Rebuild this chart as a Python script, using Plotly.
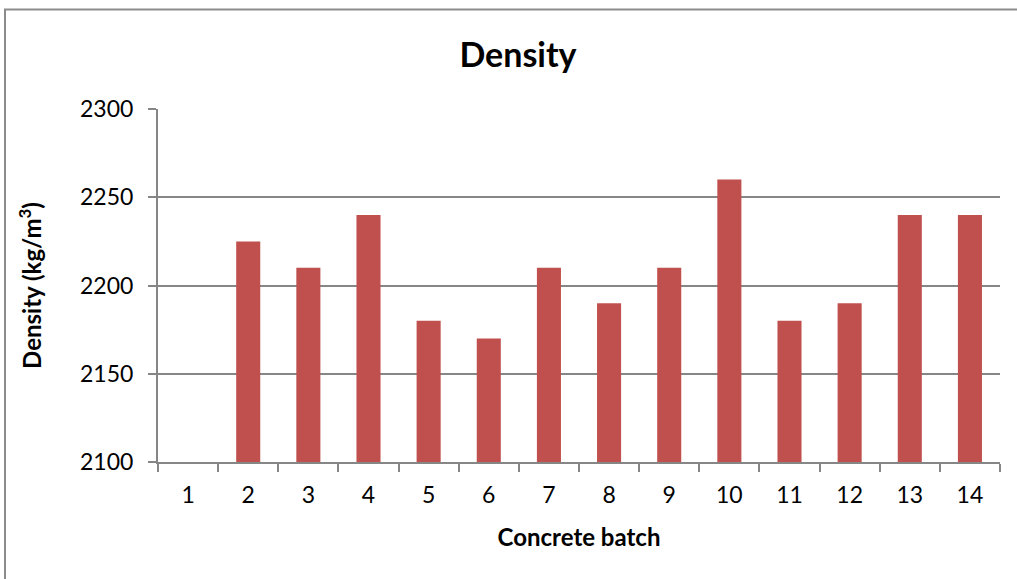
import plotly.graph_objects as go

batches = ["1", "2", "3", "4", "5", "6", "7", "8", "9", "10", "11", "12", "13", "14"]
density = [None, 2225, 2210, 2240, 2180, 2170, 2210, 2190, 2210, 2260, 2180, 2190, 2240, 2240]

title_text = "Density"
x_title = "Concrete batch"
y_title = "Density (kg/m<sup>3</sup>)"

FONT = "Lato"
GRID = "#868686"

fig = go.Figure(go.Bar(x=batches, y=density, marker=dict(color="#C0504D", line=dict(width=0))))

W, H = 1017, 579
L, R, T, B = 158, 17, 109, 117
pw, ph = W - L - R, H - T - B

fig.update_layout(
    width=W, height=H,
    margin=dict(l=L, r=R, t=T, b=B),
    paper_bgcolor="white", plot_bgcolor="white",
    bargap=0.6,
    showlegend=False,
    font=dict(family=FONT, color="black", size=23),
    title=dict(text="<b>%s</b>" % title_text, x=518 / W, xref="container", xanchor="center",
               y=1 - 55 / H, yref="container", yanchor="middle",
               font=dict(family=FONT, size=34, color="black")),
)

fig.update_xaxes(
    type="category", tickson="boundaries", ticks="outside", ticklen=8, tickcolor=GRID, tickwidth=2,
    showline=True, linecolor=GRID, linewidth=2, showgrid=False,
    tickfont=dict(family=FONT, size=23), ticklabelstandoff=11,
    title=dict(text="<b>%s</b>" % x_title, font=dict(family=FONT, size=24), standoff=23),
)
fig.update_yaxes(
    range=[2100, 2300], dtick=50, ticks="outside", ticklen=8, tickcolor=GRID, tickwidth=2,
    showline=True, linecolor=GRID, linewidth=2, showgrid=True, gridcolor=GRID, gridwidth=1.5,
    zeroline=False, tickfont=dict(family=FONT, size=23), ticklabelstandoff=10,
    title=dict(text="<b>%s</b>" % y_title, font=dict(family=FONT, size=24), standoff=32),
)

# outer chart border
fig.add_shape(type="rect", xref="paper", yref="paper",
              x0=(5 - L) / pw, x1=(W + 20 - L) / pw,
              y0=(H - B - (H + 20)) / ph, y1=(H - B - 9.5) / ph,
              line=dict(color="#8c8c8c", width=2), fillcolor="rgba(0,0,0,0)", layer="below")

fig.write_html("out.html", config={"displayModeBar": False},
               post_script="document.body.style.margin='0';")
